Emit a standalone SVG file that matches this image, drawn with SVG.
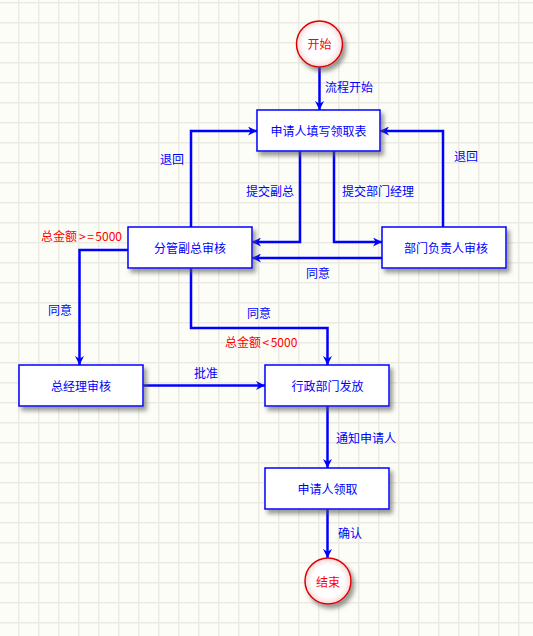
<svg xmlns="http://www.w3.org/2000/svg" width="533" height="636" viewBox="0 0 533 636">
<style>
  .box { fill: #ffffff; stroke: #0000ff; stroke-width: 1.5; filter: url(#shadow); }
  .circ { fill: url(#cg); stroke: #e00000; stroke-width: 1.5; filter: url(#shadow); }
  .t { font-family: "Noto Sans CJK SC", "Liberation Sans", sans-serif; font-size: 12px; fill: #0000ff; }
  .m { text-anchor: middle; dominant-baseline: central; }
  .red { fill: #ff0000; }
  .line { fill: none; stroke: #0000ff; stroke-width: 2.5; marker-end: url(#arr); }
</style>
<defs>
  <pattern id="grid" x="18" y="2" width="20" height="20" patternUnits="userSpaceOnUse">
    <path d="M0.75,0 V20 M0,0.75 H20" fill="none" stroke="#ebebe3" stroke-width="1.5"/>
  </pattern>
  <filter id="shadow" x="-20%" y="-20%" width="150%" height="160%">
    <feDropShadow dx="3" dy="4" stdDeviation="2" flood-color="#555555" flood-opacity="0.6"/>
  </filter>
  <radialGradient id="cg" cx="50%" cy="50%" r="50%">
    <stop offset="0.7" stop-color="#ffffff"/>
    <stop offset="1" stop-color="#f8d8d8"/>
  </radialGradient>
  <marker id="arr" viewBox="0 0 10 10" refX="10" refY="5" markerWidth="10" markerHeight="9" markerUnits="userSpaceOnUse" orient="auto">
    <path d="M0,0 L10,5 L0,10 L3,5 z" fill="#0000ff"/>
  </marker>
</defs>
<rect width="533" height="636" fill="#fdfdf7"/>
<rect width="533" height="636" fill="url(#grid)"/>

<g id="connectors">
  <path class="line" d="M319.5,67 V110"/>
  <path class="line" d="M191,227 V131 H257"/>
  <path class="line" d="M443,227 V131 H380"/>
  <path class="line" d="M300,151 V242 H252"/>
  <path class="line" d="M334,151 V242 H382"/>
  <path class="line" d="M382,258 H252"/>
  <path class="line" d="M128,250 H79.5 V365"/>
  <path class="line" d="M191,268 V328 H327.5 V365"/>
  <path class="line" d="M143,385.5 H265"/>
  <path class="line" d="M327.5,406 V468"/>
  <path class="line" d="M327.5,509 V558"/>
  <text class="t" x="325" y="92">流程开始</text>
  <text class="t" x="160" y="164">退回</text>
  <text class="t" x="454" y="161">退回</text>
  <text class="t" x="246" y="196">提交副总</text>
  <text class="t" x="342" y="196">提交部门经理</text>
  <text class="t" x="306" y="278">同意</text>
  <text class="t red" x="41" y="241">总金额<tspan dx="2">&gt;</tspan><tspan dx="1.5">=</tspan><tspan dx="1.5">5000</tspan></text>
  <text class="t" x="48" y="315">同意</text>
  <text class="t" x="247" y="318">同意</text>
  <text class="t red" x="225" y="347">总金额<tspan dx="1.5">&lt;</tspan><tspan dx="1.5">5000</tspan></text>
  <text class="t" x="194" y="378">批准</text>
  <text class="t" x="336" y="443">通知申请人</text>
  <text class="t" x="338" y="538">确认</text>
</g>

<g id="start">
  <circle class="circ" cx="319.5" cy="44" r="23"/>
  <text class="t m red" x="319.5" y="43">开始</text>
</g>
<g id="fill-form">
  <rect class="box" x="257" y="110" width="123" height="41"/>
  <text class="t m" x="318.5" y="130.5">申请人填写领取表</text>
</g>
<g id="vp-review">
  <rect class="box" x="128" y="227" width="124" height="41"/>
  <text class="t m" x="190" y="247.5">分管副总审核</text>
</g>
<g id="dept-review">
  <rect class="box" x="382" y="227" width="124" height="41"/>
  <text class="t m" x="446" y="247.5">部门负责人审核</text>
</g>
<g id="gm-review">
  <rect class="box" x="19" y="365" width="124" height="41"/>
  <text class="t m" x="81" y="385.5">总经理审核</text>
</g>
<g id="admin-issue">
  <rect class="box" x="265" y="365" width="124" height="41"/>
  <text class="t m" x="327.5" y="385.5">行政部门发放</text>
</g>
<g id="collect">
  <rect class="box" x="265" y="468" width="124" height="41"/>
  <text class="t m" x="327.5" y="488.5">申请人领取</text>
</g>
<g id="end">
  <circle class="circ" cx="328" cy="581" r="23"/>
  <text class="t m red" x="328" y="581">结束</text>
</g>
</svg>
